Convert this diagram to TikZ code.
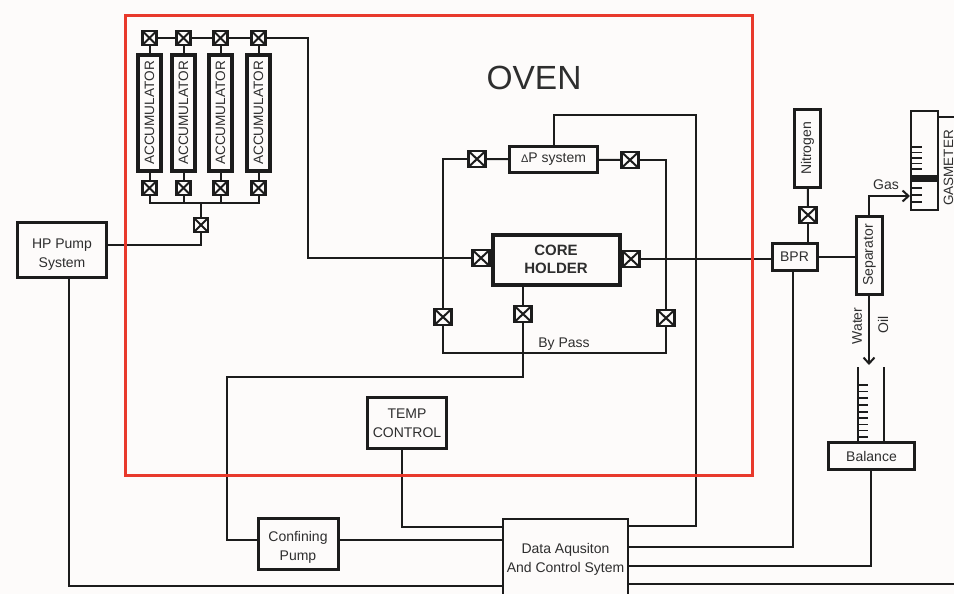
\documentclass[tikz,border=0pt]{standalone}
\usepackage{fontspec}
\setmainfont{Liberation Sans}
\usetikzlibrary{arrows.meta,calc,positioning}
\definecolor{paper}{HTML}{FDFBFA}
\definecolor{ink}{HTML}{1C1C1C}
\definecolor{inktext}{HTML}{2E2E2E}
\definecolor{ovenred}{HTML}{E8392B}
\tikzstyle{box} = [draw=ink,line width=3pt,fill=paper,text=inktext,inner sep=0pt,
align=center,font=\fontsize{14}{19}\selectfont]
\tikzstyle{pipe} = [draw=ink,line width=2pt]
\tikzstyle{flow} = [pipe,-{Straight Barb[length=6pt,width=11pt]}]
\tikzstyle{tick} = [draw=ink,line width=1.6pt]
\tikzstyle{valve} = [draw=ink,line width=2.2pt,fill=paper,inner sep=0pt,
minimum width=17pt,minimum height=16pt,
path picture={\draw[ink,line width=2pt]
(path picture bounding box.north west) -- (path picture bounding box.south east)
(path picture bounding box.north east) -- (path picture bounding box.south west);}]
\tikzstyle{smallvalve} = [valve,minimum width=14pt,minimum height=14pt]
\tikzstyle{lbl} = [text=inktext,inner sep=0pt,font=\fontsize{14}{17}\selectfont]

\begin{document}
\begin{tikzpicture}[x=1pt,y=-1pt]
            \fill[paper] (0,0) rectangle (954,594);
            \useasboundingbox (0,0) rectangle (954,594);
            \foreach \i/\xc in {1/149.5,2/183.5,3/220.5,4/258.5} {
                \node (acc\i) [box,line width=3.6pt,rotate=90,minimum width=116,minimum height=23,
                font=\fontsize{13.6}{16}\selectfont] at (\xc,113) {ACCUMULATOR};
                \node (topv\i) [smallvalve] at (\xc,38) {};
                \node (botv\i) [smallvalve] at (\xc,188) {};
                \draw[pipe] (topv\i) -- (acc\i);
                \draw[pipe] (botv\i) -- (acc\i);
            }
            \draw[pipe] (topv1) -- (topv2);
            \draw[pipe] (topv2) -- (topv3);
            \draw[pipe] (topv3) -- (topv4);
            \node (oven) [lbl,font=\fontsize{33.5}{36}\selectfont] at (534,78) {OVEN};
            \node (mainv) [smallvalve] at (201,225) {};
            \coordinate (rail) at (201,203);
            \foreach \i in {1,2,3,4} {
                \draw[pipe] (botv\i) |- (rail);
            }
            \draw[pipe] (rail) -- (mainv);
            \node (hp) [box,minimum width=89,minimum height=55] at (62,249.5) {\rule{0pt}{19pt}HP Pump\\System};
            \draw[pipe] (mainv) |- (hp.east |- 0,245);

            \node (core) [box,line width=4pt,minimum width=127,minimum height=50,
            font=\fontsize{15}{18}\selectfont\bfseries] at (556,259.5) {CORE\\HOLDER};
            \node (inv) [valve] at (481,258) {};
            \node (outv) [valve] at (631,259) {};
            \draw[pipe] (topv4) -| (308,258) -- (inv);
            \node (dp) [box,minimum width=88,minimum height=26] at (553.5,159.5) {{\fontsize{11}{14}\selectfont Δ}P system};
            \node (dplv) [valve] at (477,159) {};
            \node (dprv) [valve] at (630,160) {};
            \node (lowlv) [valve] at (443,317) {};
            \node (lowrv) [valve] at (666,318) {};
            \node (botv) [valve] at (523,314) {};
            \draw[pipe] (dplv) -- (dp);
            \draw[pipe] (dprv) -- (dp);
            \draw[pipe] (dplv) -| (lowlv);
            \draw[pipe] (dprv) -| (lowrv);
            \draw[pipe] (lowlv) |- (666,353) -- (lowrv);
            \draw[pipe] (core.south -| botv) -- (botv);
            \node (bypass) [lbl] at (564,344) {By Pass};

            \node (temp) [box,minimum width=79,minimum height=51] at (407,423) {TEMP\\CONTROL};
            \node (conf) [box,minimum width=80,minimum height=51] at (298,544) {\rule{0pt}{17pt}Confining\\Pump};
            \node (daq) [box,line width=2.4pt,minimum width=125,minimum height=76] at (565.5,557)
            {\rule{0pt}{15pt}Data Aqusiton\\And Control Sytem};
            \draw[pipe] (botv) |- (227,377) |- (conf.west |- 0,540);
            \draw[pipe] (temp.south -| 402,0) |- (daq.west |- 0,527);
            \draw[pipe] (conf.east |- 0,540) -- (daq.west |- 0,540);
            \draw[pipe] (hp.south -| 69,0) |- (daq.west |- 0,586);
            \draw[pipe] (daq.east |- 0,526) -| (696,115) -| (dp.north);

            \node (bpr) [box,minimum width=45,minimum height=27] at (794.5,257) {BPR};
            \node (nitro) [box,rotate=90,minimum width=78,minimum height=26] at (807.5,148.5) {Nitrogen};
            \node (nitv) [valve] at (808,215) {};
            \node (sep) [box,rotate=90,minimum width=78,minimum height=26] at (869.5,255) {Separator};
            \draw[pipe] (nitro) -- (nitv);
            \draw[pipe] (nitv) -- (bpr.north -| nitv);
            \draw[pipe] (outv) -- (bpr.west |- outv);
            \draw[pipe] (bpr.east) -- (sep.north |- bpr.east);
            \draw[pipe] (daq.east |- 0,547) -| (bpr.south -| 793,0);

            % gas side
            \node (gas) [draw=ink,line width=2pt,fill=paper,minimum width=27,minimum height=99,inner sep=0pt] at (924.5,160.5) {};
            \fill[ink] (911,175) rectangle (938,182);
            \foreach \yc in {147,152.5,158,163.5,169,188,195,202} {
                \draw[tick] (911,\yc) -- (922,\yc);
            }
            \draw[pipe,line width=1.5pt] (938,117) -- (954,117);
            \node (gasmeter) [lbl,rotate=90,font=\fontsize{13.5}{16}\selectfont] at (948.5,168) {GASMETER};
            \node (gaslbl) [lbl] at (886,185) {Gas};
            \draw[flow] (sep.east -| 869,0) |- (gas.west |- 0,196);

            % liquid side
            \node (balance) [box,minimum width=86,minimum height=27] at (871.5,456) {Balance};
            \coordinate (tubel) at (858,367);
            \coordinate (tuber) at (884,367);
            \draw[pipe,line width=1.5pt] (tubel) -- (balance.north -| tubel);
            \draw[pipe,line width=1.5pt] (tuber) -- (balance.north -| tuber);
            \foreach \yc in {385,391.5,398,405,412,418,424.5,430.5,437} {
                \draw[tick] (858,\yc) -- (868,\yc);
            }
            \coordinate (drop) at (869,365);
            \draw[flow] (sep.west -| drop) -- (drop);
            \node (water) [lbl,rotate=90] at (857,326) {Water};
            \node (oil) [lbl,rotate=90] at (883,325) {Oil};
            \draw[pipe] (daq.east |- 0,566) -| (balance.south -| 871,0);
            \draw[pipe,line width=1.5pt] (daq.east |- 0,584) -- (954,584);

            \draw[ovenred,line width=3pt] (125,16) rectangle (752,475);
        \end{tikzpicture}
\end{document}
